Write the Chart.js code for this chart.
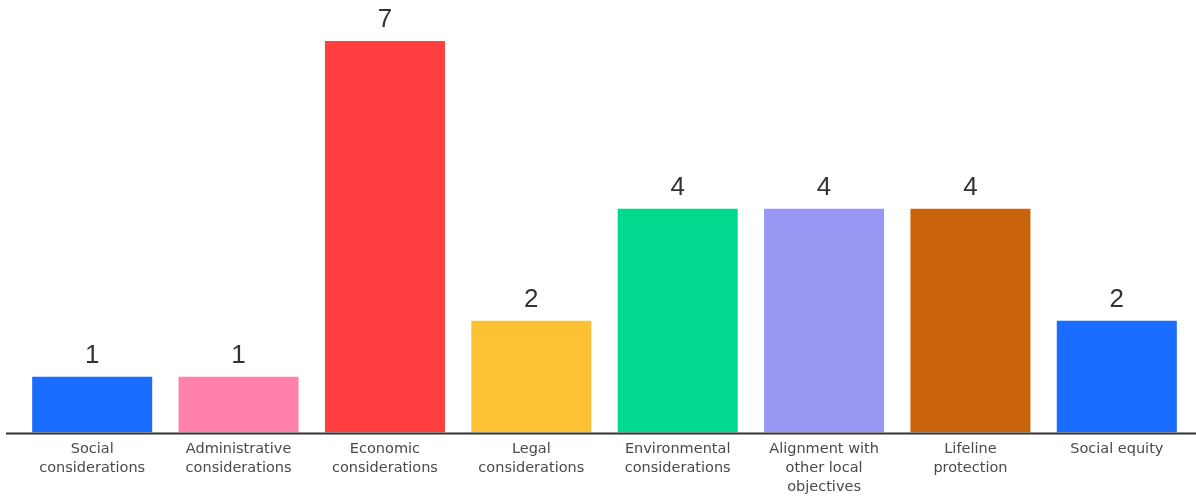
<!DOCTYPE html>
<html>
<head>
<meta charset="utf-8">
<script src="https://cdn.jsdelivr.net/npm/chart.js@4"></script>
<style>
  html, body { margin: 0; padding: 0; background: #fff; }
  #wrap { width: 1196px; height: 498px; position: relative; }
</style>
</head>
<body>
<div id="wrap"><canvas id="barChart"></canvas></div>
<script>
const categories = [
  ['Social', 'considerations'],
  ['Administrative', 'considerations'],
  ['Economic', 'considerations'],
  ['Legal', 'considerations'],
  ['Environmental', 'considerations'],
  ['Alignment with', 'other local', 'objectives'],
  ['Lifeline', 'protection'],
  ['Social equity']
];
const counts = [1, 1, 7, 2, 4, 4, 4, 2];
const barColors = ['#1a6bff', '#ff80aa', '#ff3f3f', '#fdc233', '#00d98e', '#9898f4', '#c9640d', '#1a6bff'];

// value on top of each bar + long baseline
const valueLabels = {
  id: 'valueLabels',
  afterDatasetsDraw(chart) {
    const ctx = chart.ctx;
    const y0 = chart.scales.y.getPixelForValue(0);
    ctx.save();
    ctx.strokeStyle = '#333';
    ctx.lineWidth = 2;
    ctx.beginPath();
    ctx.moveTo(6, y0 + 1);
    ctx.lineTo(chart.width, y0 + 1);
    ctx.stroke();

    ctx.fillStyle = '#333';
    ctx.font = '26px "Liberation Sans", Arial, sans-serif';
    ctx.textAlign = 'center';
    ctx.textBaseline = 'bottom';
    chart.getDatasetMeta(0).data.forEach((bar, i) => {
      ctx.fillText(counts[i], bar.x, bar.y - 8);
    });
    ctx.restore();
  }
};

new Chart(document.getElementById('barChart'), {
  type: 'bar',
  data: {
    labels: categories,
    datasets: [{
      data: counts,
      backgroundColor: barColors,
      barPercentage: 0.82,
      categoryPercentage: 1.0
    }]
  },
  options: {
    responsive: true,
    maintainAspectRatio: false,
    animation: false,
    layout: { padding: { left: 19, right: 6, top: 41, bottom: -6 } },
    plugins: { legend: { display: false }, tooltip: { enabled: false } },
    scales: {
      x: {
        grid: { display: false, drawTicks: false },
        border: { display: false },
        ticks: {
          color: '#4a4a4a',
          padding: 7,
          maxRotation: 0,
          autoSkip: false,
          font: { family: '"DejaVu Sans", sans-serif', size: 14.5, lineHeight: 1.32 }
        }
      },
      y: {
        display: false,
        min: 0,
        max: 7
      }
    }
  },
  plugins: [valueLabels]
});
</script>
</body>
</html>
